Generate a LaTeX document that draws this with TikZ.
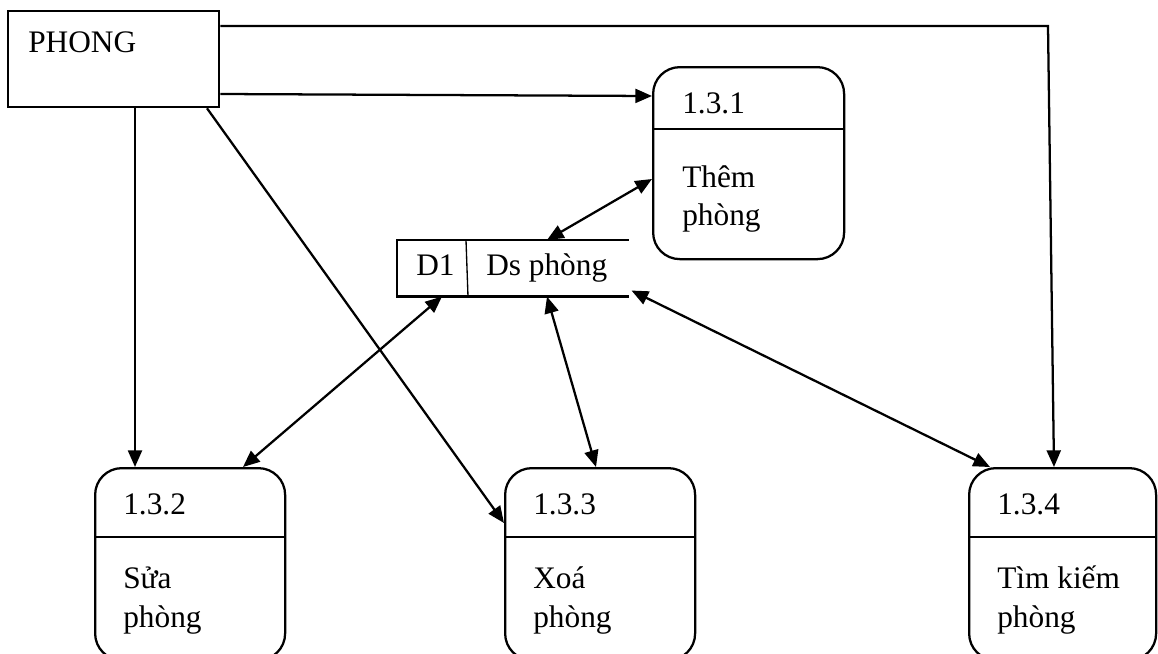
\documentclass[tikz,border=0pt]{standalone}
\usepackage{fontspec}
\setmainfont{Liberation Serif}
\usetikzlibrary{arrows.meta,calc}
\tikzset{
  every node/.style={font=\fontsize{23.5}{28}\selectfont},
  ln/.style={line width=1.7pt},
  txt/.style={anchor=base west, inner sep=0pt},
  proc/.style={draw, ln, rounded corners=20pt, anchor=north west, inner sep=0pt,
    minimum width=142.5pt, minimum height=144pt},
  arr/.style={ln, -{Triangle[length=12.5pt,width=10.5pt]}},
  darr/.style={ln, {Triangle[length=12.5pt,width=10.5pt]}-{Triangle[length=12.5pt,width=10.5pt]}},
}
\begin{document}
\begin{tikzpicture}[x=0.75pt,y=-0.75pt]
\useasboundingbox (0,0) rectangle (1158,654);
\clip (0,0) rectangle (1158,654);
% external entity
\node[draw, ln, anchor=north west, inner sep=0pt, minimum width=158.25pt, minimum height=72pt] (phong) at (7,10) {};
\node[txt] (phongt) at (28,52) {PHONG};
% processes
\node[proc, minimum width=143.25pt] (p1) at (652,66) {};
\draw[ln] ($(p1.north west)+(0,63)$) -- ($(p1.north east)+(0,63)$);
\node[txt] (p1n) at (682,113) {1.3.1};
\node[txt] (p1a) at (682,187) {Thêm};
\node[txt] (p1b) at (682,225) {phòng};

\node[proc] (p2) at (94,467) {};
\draw[ln] ($(p2.north west)+(0,70)$) -- ($(p2.north east)+(0,70)$);
\node[txt] (p2n) at (123,514) {1.3.2};
\node[txt] (p2a) at (123,588) {Sửa};
\node[txt] (p2b) at (123,627) {phòng};

\node[proc] (p3) at (504,467) {};
\draw[ln] ($(p3.north west)+(0,70)$) -- ($(p3.north east)+(0,70)$);
\node[txt] (p3n) at (533,514) {1.3.3};
\node[txt] (p3a) at (533,588) {Xoá};
\node[txt] (p3b) at (533,627) {phòng};

\node[proc, minimum width=140.25pt] (p4) at (968,467) {};
\draw[ln] ($(p4.north west)+(0,70)$) -- ($(p4.north east)+(0,70)$);
\node[txt] (p4n) at (997,514) {1.3.4};
\node[txt] (p4a) at (997,588) {Tìm kiếm};
\node[txt] (p4b) at (997,627) {phòng};

% data store
\node[anchor=north west, inner sep=0pt, minimum width=173.25pt, minimum height=42pt] (st) at (397,240) {};
\draw[ln] (st.north east) -- (st.north west) -- (st.south west) -- (st.south east);
\draw[line width=1pt] ($(st.north west)+(69,0)$) -- ($(st.south west)+(71,0)$);
\node[txt] (std) at (416,275) {D1};
\node[txt] (stn) at (486,275) {Ds phòng};

% connectors
\coordinate (c1) at (1048,26);
\draw[arr] ($(phong.north east)+(0,16)$) -- (c1) -- ($(p4.north west)+(86,0)$);
\draw[arr] ($(phong.north east)+(0,84)$) -- ($(p1.north west)+(0,30)$);
\draw[arr] ($(phong.south west)+(128,0)$) -- ($(p2.north west)+(41,0)$);
\draw[arr] ($(phong.south west)+(200,0)$) -- ($(p3.north west)+(0,56)$);
\draw[darr] ($(p1.north west)+(0,113)$) -- ($(st.north west)+(150,0)$);
\draw[darr] ($(st.south west)+(45,0)$) -- ($(p2.north west)+(149,0)$);
\draw[darr] ($(st.south west)+(150,0)$) -- ($(p3.north west)+(92,0)$);
\draw[darr] ($(st.south east)+(3,-6)$) -- ($(p4.north west)+(22,0)$);
\end{tikzpicture}
\end{document}
